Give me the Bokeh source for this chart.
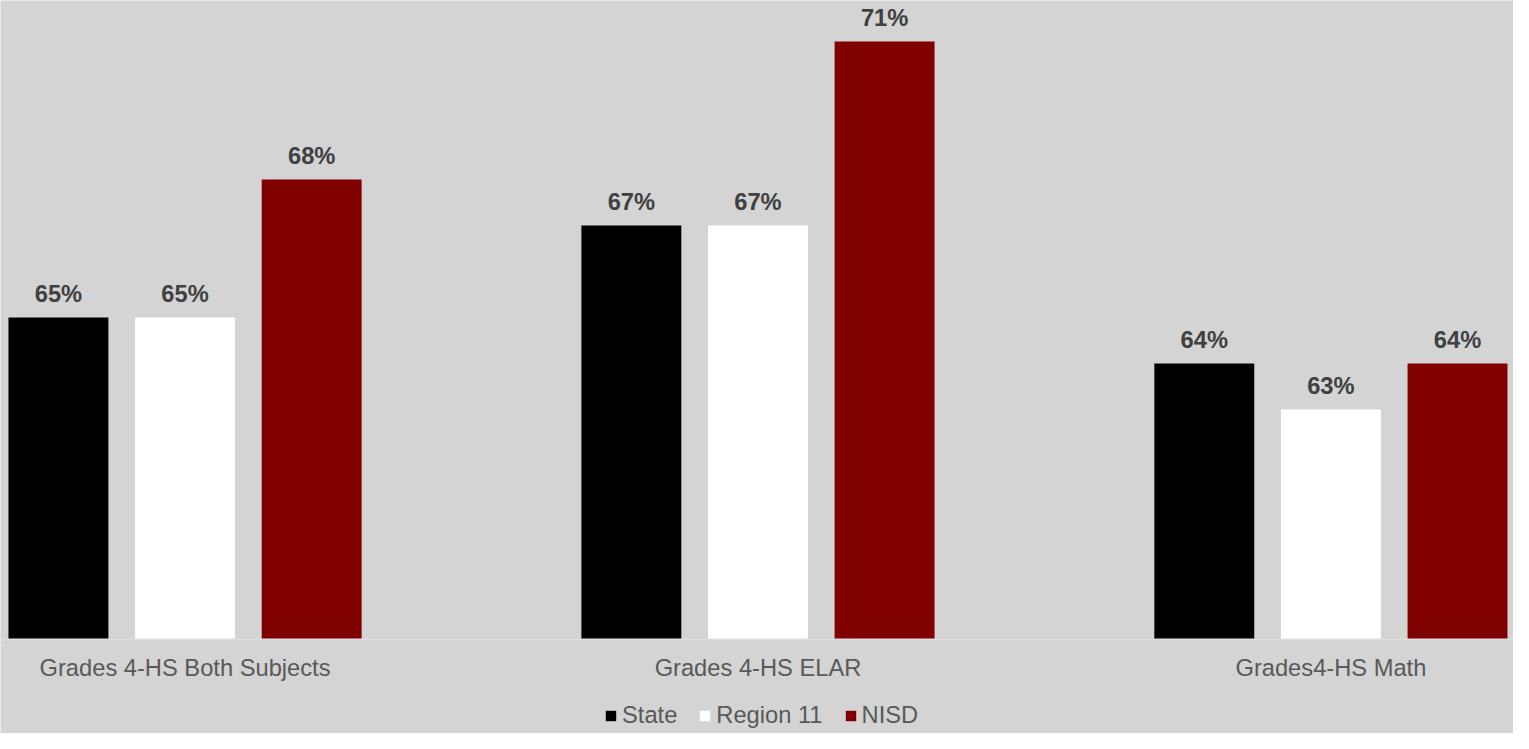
from bokeh.plotting import figure
from bokeh.models import ColumnDataSource, LabelSet, Legend, LegendItem, Range1d, Span
from bokeh.core.properties import value
from bokeh.transform import dodge
from bokeh.embed import file_html
from bokeh.resources import INLINE

# ---- data ----
categories = ["Grades 4-HS Both Subjects", "Grades 4-HS ELAR", "Grades4-HS Math"]
state = [65, 67, 64]
region11 = [65, 67, 63]
nisd = [68, 71, 64]
series_names = ["State", "Region 11", "NISD"]
series_values = [state, region11, nisd]
series_colors = ["#000000", "#ffffff", "#800000"]

BG = "#d3d4d3"
Y0 = 58          # value axis baseline
FONT = "Liberation Sans"

x = list(range(len(categories)))

p = figure(width=1513, height=733, output_backend="svg", toolbar_location=None,
           x_range=Range1d(-0.3221, 2.3187), y_range=Range1d(55.957, 71.894),
           x_axis_location=None, y_axis_location=None,
           min_border_left=0, min_border_right=0, min_border_top=0, min_border_bottom=0,
           background_fill_color=BG, border_fill_color=BG, outline_line_color=None)
p.xgrid.visible = False
p.ygrid.visible = False

renderers = []
for i, (name, vals, color) in enumerate(zip(series_names, series_values, series_colors)):
    offset = (i - 1) * 0.221
    src = ColumnDataSource(dict(x=x, top=vals, label=[f"{v}%" for v in vals]))
    r = p.vbar(x=dodge("x", offset), top="top", bottom=Y0, width=0.1744, source=src,
               fill_color=color, line_color=None)
    renderers.append(r)
    lbl = LabelSet(x=dodge("x", offset), y="top", text="label", source=src, y_offset=15.7,
                   text_align="center", text_baseline="alphabetic", text_font_size=value("23.7px"),
                   text_font_style=value("bold"), text_color=value("#404040"),
                   text_font=value(FONT))
    p.add_layout(lbl)

# category axis: baseline line + category labels
p.add_layout(Span(location=Y0, dimension="width", line_color="#dedede", line_width=2))
cat_src = ColumnDataSource(dict(x=x, y=[Y0] * len(x), label=categories))
p.add_layout(LabelSet(x="x", y="y", text="label", source=cat_src, y_offset=-36,
                      text_align="center", text_baseline="alphabetic",
                      text_font_size=value("23.7px"), text_color=value("#595959"),
                      text_font=value(FONT)))

legend = Legend(items=[LegendItem(label=n, renderers=[r]) for n, r in zip(series_names, renderers)],
                orientation="horizontal", location=(604, 4),
                glyph_width=13, glyph_height=13, label_standoff=5, spacing=21,
                padding=0, margin=0, label_text_font_size="23.7px",
                label_text_font=FONT, label_text_color="#595959",
                background_fill_alpha=0, border_line_alpha=0)
p.add_layout(legend, "center")

open("out.html", "w").write(file_html(p, INLINE))
